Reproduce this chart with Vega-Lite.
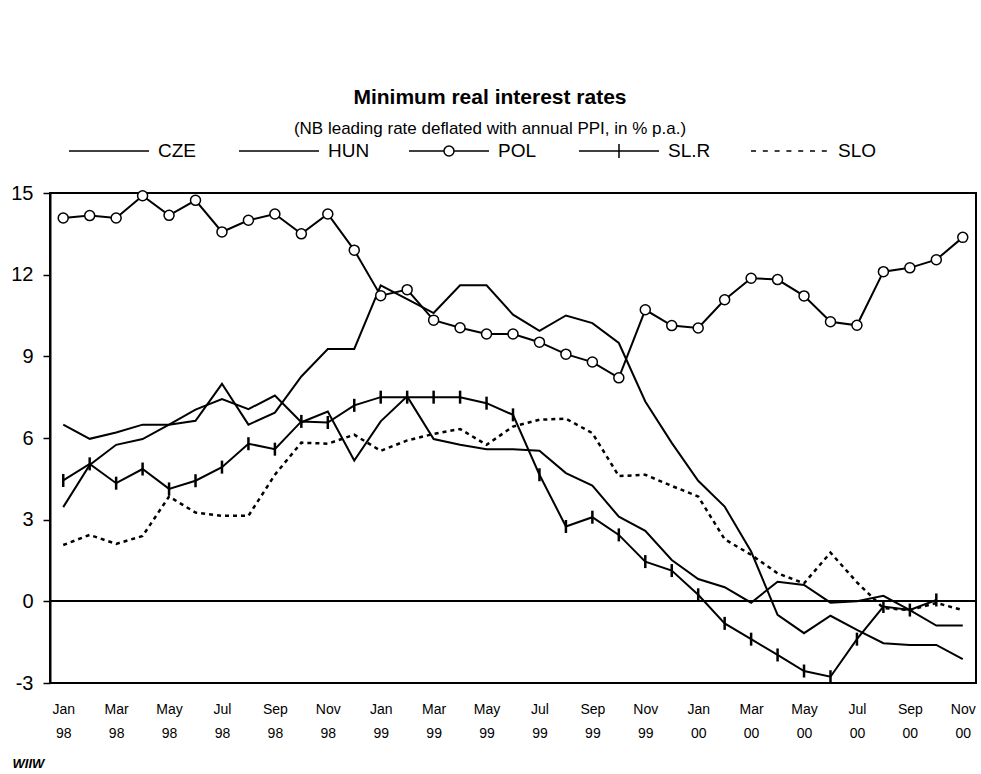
{
  "$schema": "https://vega.github.io/schema/vega-lite/v6.json",
  "width": 926,
  "height": 490,
  "autosize": {"type": "none"},
  "padding": {"left": 50, "top": 193, "right": 5, "bottom": 91},
  "background": "white",
  "title": {
    "text": "Minimum real interest rates",
    "subtitle": "(NB leading rate deflated with annual PPI, in % p.a.)",
    "anchor": "middle",
    "frame": "group",
    "dx": -23,
    "font": "Liberation Sans",
    "fontSize": 21,
    "fontWeight": "bold",
    "color": "black",
    "subtitleFont": "Liberation Sans",
    "subtitleFontSize": 17,
    "subtitleColor": "black",
    "subtitlePadding": 13,
    "offset": -27
  },
  "config": {
    "view": {"stroke": "black", "strokeWidth": 2},
    "font": "Liberation Sans"
  },
  "datasets": {
    "rates": [
      {"m":"Jan 98","s":"CZE","v":3.46},{"m":"Feb 98","s":"CZE","v":5.01},{"m":"Mar 98","s":"CZE","v":5.75},{"m":"Apr 98","s":"CZE","v":5.96},{"m":"May 98","s":"CZE","v":6.49},{"m":"Jun 98","s":"CZE","v":7.04},{"m":"Jul 98","s":"CZE","v":7.43},{"m":"Aug 98","s":"CZE","v":7.06},{"m":"Sep 98","s":"CZE","v":7.56},{"m":"Oct 98","s":"CZE","v":6.58},{"m":"Nov 98","s":"CZE","v":6.97},{"m":"Dec 98","s":"CZE","v":5.17},
      {"m":"Jan 99","s":"CZE","v":6.61},{"m":"Feb 99","s":"CZE","v":7.53},{"m":"Mar 99","s":"CZE","v":5.96},{"m":"Apr 99","s":"CZE","v":5.75},{"m":"May 99","s":"CZE","v":5.59},{"m":"Jun 99","s":"CZE","v":5.59},{"m":"Jul 99","s":"CZE","v":5.53},{"m":"Aug 99","s":"CZE","v":4.71},{"m":"Sep 99","s":"CZE","v":4.25},{"m":"Oct 99","s":"CZE","v":3.11},{"m":"Nov 99","s":"CZE","v":2.59},{"m":"Dec 99","s":"CZE","v":1.52},
      {"m":"Jan 00","s":"CZE","v":0.82},{"m":"Feb 00","s":"CZE","v":0.52},{"m":"Mar 00","s":"CZE","v":-0.05},{"m":"Apr 00","s":"CZE","v":0.72},{"m":"May 00","s":"CZE","v":0.6},{"m":"Jun 00","s":"CZE","v":-0.05},{"m":"Jul 00","s":"CZE","v":0.0},{"m":"Aug 00","s":"CZE","v":0.2},{"m":"Sep 00","s":"CZE","v":-0.32},{"m":"Oct 00","s":"CZE","v":-0.89},{"m":"Nov 00","s":"CZE","v":-0.89},

      {"m":"Jan 98","s":"HUN","v":6.49},{"m":"Feb 98","s":"HUN","v":5.97},{"m":"Mar 98","s":"HUN","v":6.2},{"m":"Apr 98","s":"HUN","v":6.49},{"m":"May 98","s":"HUN","v":6.49},{"m":"Jun 98","s":"HUN","v":6.63},{"m":"Jul 98","s":"HUN","v":7.99},{"m":"Aug 98","s":"HUN","v":6.49},{"m":"Sep 98","s":"HUN","v":6.93},{"m":"Oct 98","s":"HUN","v":8.26},{"m":"Nov 98","s":"HUN","v":9.27},{"m":"Dec 98","s":"HUN","v":9.27},
      {"m":"Jan 99","s":"HUN","v":11.61},{"m":"Feb 99","s":"HUN","v":11.1},{"m":"Mar 99","s":"HUN","v":10.59},{"m":"Apr 99","s":"HUN","v":11.61},{"m":"May 99","s":"HUN","v":11.61},{"m":"Jun 99","s":"HUN","v":10.53},{"m":"Jul 99","s":"HUN","v":9.94},{"m":"Aug 99","s":"HUN","v":10.5},{"m":"Sep 99","s":"HUN","v":10.22},{"m":"Oct 99","s":"HUN","v":9.49},{"m":"Nov 99","s":"HUN","v":7.34},{"m":"Dec 99","s":"HUN","v":5.82},
      {"m":"Jan 00","s":"HUN","v":4.43},{"m":"Feb 00","s":"HUN","v":3.48},{"m":"Mar 00","s":"HUN","v":1.83},{"m":"Apr 00","s":"HUN","v":-0.5},{"m":"May 00","s":"HUN","v":-1.17},{"m":"Jun 00","s":"HUN","v":-0.53},{"m":"Jul 00","s":"HUN","v":-1.05},{"m":"Aug 00","s":"HUN","v":-1.54},{"m":"Sep 00","s":"HUN","v":-1.6},{"m":"Oct 00","s":"HUN","v":-1.6},{"m":"Nov 00","s":"HUN","v":-2.12},

      {"m":"Jan 98","s":"POL","v":14.08},{"m":"Feb 98","s":"POL","v":14.17},{"m":"Mar 98","s":"POL","v":14.08},{"m":"Apr 98","s":"POL","v":14.9},{"m":"May 98","s":"POL","v":14.18},{"m":"Jun 98","s":"POL","v":14.73},{"m":"Jul 98","s":"POL","v":13.57},{"m":"Aug 98","s":"POL","v":14.0},{"m":"Sep 98","s":"POL","v":14.23},{"m":"Oct 98","s":"POL","v":13.5},{"m":"Nov 98","s":"POL","v":14.23},{"m":"Dec 98","s":"POL","v":12.9},
      {"m":"Jan 99","s":"POL","v":11.23},{"m":"Feb 99","s":"POL","v":11.45},{"m":"Mar 99","s":"POL","v":10.33},{"m":"Apr 99","s":"POL","v":10.05},{"m":"May 99","s":"POL","v":9.82},{"m":"Jun 99","s":"POL","v":9.82},{"m":"Jul 99","s":"POL","v":9.52},{"m":"Aug 99","s":"POL","v":9.08},{"m":"Sep 99","s":"POL","v":8.79},{"m":"Oct 99","s":"POL","v":8.21},{"m":"Nov 99","s":"POL","v":10.71},{"m":"Dec 99","s":"POL","v":10.13},
      {"m":"Jan 00","s":"POL","v":10.04},{"m":"Feb 00","s":"POL","v":11.08},{"m":"Mar 00","s":"POL","v":11.87},{"m":"Apr 00","s":"POL","v":11.82},{"m":"May 00","s":"POL","v":11.22},{"m":"Jun 00","s":"POL","v":10.27},{"m":"Jul 00","s":"POL","v":10.14},{"m":"Aug 00","s":"POL","v":12.11},{"m":"Sep 00","s":"POL","v":12.25},{"m":"Oct 00","s":"POL","v":12.55},{"m":"Nov 00","s":"POL","v":13.37},

      {"m":"Jan 98","s":"SL.R","v":4.44},{"m":"Feb 98","s":"SL.R","v":5.05},{"m":"Mar 98","s":"SL.R","v":4.34},{"m":"Apr 98","s":"SL.R","v":4.86},{"m":"May 98","s":"SL.R","v":4.13},{"m":"Jun 98","s":"SL.R","v":4.43},{"m":"Jul 98","s":"SL.R","v":4.93},{"m":"Aug 98","s":"SL.R","v":5.79},{"m":"Sep 98","s":"SL.R","v":5.59},{"m":"Oct 98","s":"SL.R","v":6.61},{"m":"Nov 98","s":"SL.R","v":6.57},{"m":"Dec 98","s":"SL.R","v":7.2},
      {"m":"Jan 99","s":"SL.R","v":7.5},{"m":"Feb 99","s":"SL.R","v":7.5},{"m":"Mar 99","s":"SL.R","v":7.5},{"m":"Apr 99","s":"SL.R","v":7.5},{"m":"May 99","s":"SL.R","v":7.28},{"m":"Jun 99","s":"SL.R","v":6.85},{"m":"Jul 99","s":"SL.R","v":4.65},{"m":"Aug 99","s":"SL.R","v":2.75},{"m":"Sep 99","s":"SL.R","v":3.09},{"m":"Oct 99","s":"SL.R","v":2.44},{"m":"Nov 99","s":"SL.R","v":1.46},{"m":"Dec 99","s":"SL.R","v":1.13},
      {"m":"Jan 00","s":"SL.R","v":0.24},{"m":"Feb 00","s":"SL.R","v":-0.81},{"m":"Mar 00","s":"SL.R","v":-1.39},{"m":"Apr 00","s":"SL.R","v":-1.97},{"m":"May 00","s":"SL.R","v":-2.56},{"m":"Jun 00","s":"SL.R","v":-2.77},{"m":"Jul 00","s":"SL.R","v":-1.39},{"m":"Aug 00","s":"SL.R","v":-0.19},{"m":"Sep 00","s":"SL.R","v":-0.32},{"m":"Oct 00","s":"SL.R","v":0.05},

      {"m":"Jan 98","s":"SLO","v":2.07},{"m":"Feb 98","s":"SLO","v":2.44},{"m":"Mar 98","s":"SLO","v":2.11},{"m":"Apr 98","s":"SLO","v":2.4},{"m":"May 98","s":"SLO","v":3.85},{"m":"Jun 98","s":"SLO","v":3.26},{"m":"Jul 98","s":"SLO","v":3.14},{"m":"Aug 98","s":"SLO","v":3.14},{"m":"Sep 98","s":"SLO","v":4.65},{"m":"Oct 98","s":"SLO","v":5.83},{"m":"Nov 98","s":"SLO","v":5.79},{"m":"Dec 98","s":"SLO","v":6.12},
      {"m":"Jan 99","s":"SLO","v":5.53},{"m":"Feb 99","s":"SLO","v":5.91},{"m":"Mar 99","s":"SLO","v":6.15},{"m":"Apr 99","s":"SLO","v":6.33},{"m":"May 99","s":"SLO","v":5.75},{"m":"Jun 99","s":"SLO","v":6.42},{"m":"Jul 99","s":"SLO","v":6.67},{"m":"Aug 99","s":"SLO","v":6.71},{"m":"Sep 99","s":"SLO","v":6.18},{"m":"Oct 99","s":"SLO","v":4.6},{"m":"Nov 99","s":"SLO","v":4.65},{"m":"Dec 99","s":"SLO","v":4.24},
      {"m":"Jan 00","s":"SLO","v":3.85},{"m":"Feb 00","s":"SLO","v":2.28},{"m":"Mar 00","s":"SLO","v":1.71},{"m":"Apr 00","s":"SLO","v":1.03},{"m":"May 00","s":"SLO","v":0.66},{"m":"Jun 00","s":"SLO","v":1.79},{"m":"Jul 00","s":"SLO","v":0.7},{"m":"Aug 00","s":"SLO","v":-0.25},{"m":"Sep 00","s":"SLO","v":-0.32},{"m":"Oct 00","s":"SLO","v":-0.06},{"m":"Nov 00","s":"SLO","v":-0.32}
    ]
  },
  "data": {"name": "rates"},
  "encoding": {
    "x": {
      "field": "m",
      "type": "ordinal",
      "sort": null,
      "scale": {
        "type": "point",
        "padding": 0.5,
        "domain": ["Jan 98","Feb 98","Mar 98","Apr 98","May 98","Jun 98","Jul 98","Aug 98","Sep 98","Oct 98","Nov 98","Dec 98","Jan 99","Feb 99","Mar 99","Apr 99","May 99","Jun 99","Jul 99","Aug 99","Sep 99","Oct 99","Nov 99","Dec 99","Jan 00","Feb 00","Mar 00","Apr 00","May 00","Jun 00","Jul 00","Aug 00","Sep 00","Oct 00","Nov 00"]
      },
      "axis": {
        "title": "WIIW",
        "titleFont": "Liberation Sans",
        "titleFontStyle": "italic",
        "titleFontWeight": "bold",
        "titleFontSize": 13,
        "titleColor": "black",
        "titleAnchor": "start",
        "titleAlign": "left",
        "titleBaseline": "top",
        "titleX": -38,
        "titleY": 74,
        "values": ["Jan 98","Mar 98","May 98","Jul 98","Sep 98","Nov 98","Jan 99","Mar 99","May 99","Jul 99","Sep 99","Nov 99","Jan 00","Mar 00","May 00","Jul 00","Sep 00","Nov 00"],
        "labelExpr": "split(datum.label, ' ')",
        "labelAngle": 0,
        "labelFontSize": 14,
        "labelColor": "black",
        "labelLineHeight": 24,
        "labelPadding": 19,
        "ticks": false,
        "domain": false,
        "grid": false
      }
    },
    "y": {
      "field": "v",
      "type": "quantitative",
      "scale": {"domain": [-3, 15], "nice": false, "zero": false},
      "axis": {
        "title": null,
        "values": [-3, 0, 3, 6, 9, 12, 15],
        "labelExpr": "datum.value + ''",
        "tickSize": 7,
        "tickColor": "black",
        "tickWidth": 1.5,
        "domainColor": "black",
        "domainWidth": 2,
        "labelFontSize": 20,
        "labelColor": "black",
        "labelPadding": 10,
        "grid": false
      }
    }
  },
  "layer": [
    {
      "mark": {"type": "rule", "color": "black", "strokeWidth": 1.5},
      "encoding": {"y": {"datum": 0}, "x": null}
    },
    {
      "transform": [{"filter": "datum.s != 'SLO'"}],
      "mark": {"type": "line", "color": "black", "strokeWidth": 2},
      "encoding": {"detail": {"field": "s", "type": "nominal"}}
    },
    {
      "transform": [{"filter": "datum.s == 'SLO'"}],
      "mark": {"type": "line", "color": "black", "strokeWidth": 2.5, "strokeDash": [4, 4]},
      "encoding": {}
    },
    {
      "transform": [{"filter": "datum.s == 'POL'"}],
      "mark": {"type": "point", "shape": "circle", "filled": true, "fill": "white", "stroke": "black", "strokeWidth": 1.5, "size": 100, "opacity": 1}
    },
    {
      "transform": [{"filter": "datum.s == 'SL.R'"}],
      "mark": {"type": "point", "shape": "M0,-1V1", "filled": false, "stroke": "black", "strokeWidth": 2.5, "size": 169, "opacity": 1}
    },
    {
      "transform": [{"filter": "false"}],
      "mark": {"type": "point", "filled": false, "color": "black", "strokeWidth": 1.5, "opacity": 1},
      "encoding": {
        "x": null,
        "y": null,
        "shape": {
          "field": "s",
          "type": "nominal",
          "scale": {
            "domain": ["CZE", "HUN", "POL", "SL.R", "SLO"],
            "range": [
              "M-1,0H1",
              "M-1,0H1",
              "M-1,0H-0.125M0.125,0H1M-0.125,0A0.125,0.125 0 1,1 0.125,0A0.125,0.125 0 1,1 -0.125,0Z",
              "M-1,0H1M0,-0.175V0.175",
              "M-0.95,0H-0.825M-0.655,0H-0.53M-0.36,0H-0.235M-0.065,0H0.06M0.23,0H0.355M0.525,0H0.65M0.82,0H0.945"
            ]
          },
          "legend": {
            "orient": "none",
            "legendX": 18,
            "legendY": -83,
            "direction": "horizontal",
            "columns": 5,
            "gridAlign": "all",
            "columnPadding": 35,
            "symbolSize": 6400,
            "symbolStrokeWidth": 1.5,
            "symbolStrokeColor": "black",
            "symbolOpacity": 1,
            "labelFont": "Liberation Sans",
            "labelFontSize": 19,
            "labelColor": "black",
            "labelOffset": 8,
            "title": null,
            "padding": 0
          }
        }
      }
    }
  ]
}
